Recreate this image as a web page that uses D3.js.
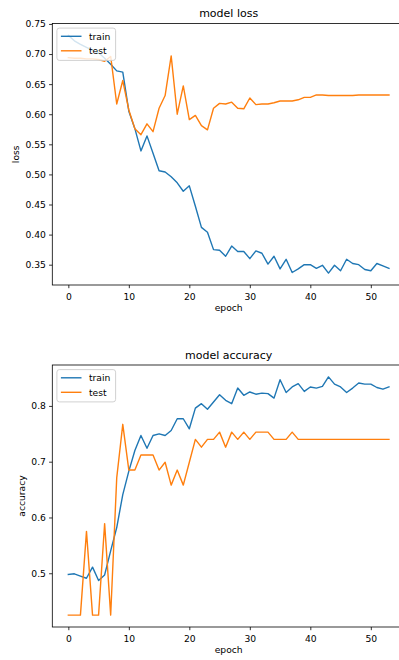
<!DOCTYPE html>
<html>
<head>
<meta charset="utf-8">
<script src="https://cdn.jsdelivr.net/npm/d3@7"></script>
<style>
    body { margin: 0; background: #fff; }
    svg { display: block; font-family: "DejaVu Sans", sans-serif; }
</style>
</head>
<body>
<div id="chart"></div>
<script>
// values, one entry per epoch (0..53)
const trainLoss = [
    0.731, 0.722, 0.716, 0.711, 0.706, 0.702, 0.693, 0.683, 0.672, 0.670,
    0.605, 0.576, 0.539, 0.564, 0.535, 0.506, 0.504, 0.496, 0.486, 0.472,
    0.481, 0.447, 0.412, 0.404, 0.375, 0.374, 0.364, 0.381, 0.372, 0.372,
    0.360, 0.373, 0.369, 0.351, 0.364, 0.343, 0.359, 0.337, 0.343, 0.350,
    0.350, 0.344, 0.349, 0.336, 0.349, 0.340, 0.359, 0.352, 0.350, 0.342,
    0.340, 0.352, 0.348, 0.344
];
const testLoss = [
    0.694, 0.693, 0.693, 0.692, 0.692, 0.691, 0.688, 0.696, 0.617, 0.656,
    0.607, 0.576, 0.566, 0.584, 0.571, 0.610, 0.631, 0.697, 0.600, 0.647,
    0.591, 0.598, 0.581, 0.574, 0.610, 0.618, 0.617, 0.620, 0.610, 0.609,
    0.627, 0.616, 0.617, 0.617, 0.619, 0.622, 0.622, 0.622, 0.624, 0.628,
    0.628, 0.632, 0.632, 0.631, 0.631, 0.631, 0.631, 0.631, 0.632, 0.632,
    0.632, 0.632, 0.632, 0.632
];
const trainAcc = [
    0.498, 0.499, 0.495, 0.491, 0.511, 0.487, 0.497, 0.540, 0.582, 0.641,
    0.683, 0.720, 0.747, 0.724, 0.747, 0.750, 0.747, 0.756, 0.777, 0.777,
    0.759, 0.796, 0.804, 0.794, 0.807, 0.820, 0.810, 0.804, 0.832, 0.819,
    0.825, 0.821, 0.823, 0.822, 0.814, 0.847, 0.824, 0.834, 0.840, 0.826,
    0.834, 0.832, 0.835, 0.852, 0.839, 0.834, 0.824, 0.832, 0.841, 0.839,
    0.839, 0.833, 0.830, 0.834
];
const testAcc = [
    0.425, 0.425, 0.425, 0.575, 0.425, 0.425, 0.589, 0.425, 0.671, 0.767,
    0.685, 0.685, 0.712, 0.712, 0.712, 0.685, 0.699, 0.658, 0.685, 0.658,
    0.699, 0.740, 0.726, 0.740, 0.740, 0.753, 0.726, 0.753, 0.740, 0.753,
    0.740, 0.753, 0.753, 0.753, 0.740, 0.740, 0.740, 0.753, 0.740, 0.740,
    0.740, 0.740, 0.740, 0.740, 0.740, 0.740, 0.740, 0.740, 0.740, 0.740,
    0.740, 0.740, 0.740, 0.740
];
const epochTicks = [0, 10, 20, 30, 40, 50];
const lossTicks = [0.35, 0.40, 0.45, 0.50, 0.55, 0.60, 0.65, 0.70, 0.75];
const accTicks = [0.5, 0.6, 0.7, 0.8];
const seriesNames = ['train', 'test'];

const colors = {train: '#1f77b4', test: '#ff7f0e'};
const width = 399, height = 660;
const left = 52.3, right = 405;   // right spine falls outside the picture
const fontSize = 9.2;

const svg = d3.select('#chart')
    .append('svg')
    .attr('width', width)
    .attr('height', height);

const panels = [
    {title: 'model loss', ylabel: 'loss', train: trainLoss, test: testLoss,
        ticks: lossTicks, fmt: '.2f', top: 23.5, bottom: 285, labelX: 18.8},
    {title: 'model accuracy', ylabel: 'accuracy', train: trainAcc, test: testAcc,
        ticks: accTicks, fmt: '.1f', top: 365, bottom: 627, labelX: 24.8}
];

// matplotlib style 5% padding around the data
function padded(lo, hi) {
    const m = (hi - lo) * 0.05;
    return [lo - m, hi + m];
}

panels.forEach(function (p) {
    const n = p.train.length;
    const x = d3.scaleLinear().domain(padded(0, n - 1)).range([left, right]);
    const all = p.train.concat(p.test);
    const y = d3.scaleLinear().domain(padded(d3.min(all), d3.max(all))).range([p.bottom, p.top]);

    const g = svg.append('g');

    const line = d3.line()
        .x(function (d, i) { return x(i); })
        .y(function (d) { return y(d); });

    seriesNames.forEach(function (name) {
        g.append('path')
            .attr('fill', 'none')
            .attr('stroke', colors[name])
            .attr('stroke-width', 1.4)
            .attr('stroke-linejoin', 'round')
            .attr('stroke-linecap', 'square')
            .attr('d', line(p[name]));
    });

    // axes frame
    g.append('rect')
        .attr('x', left)
        .attr('y', p.top)
        .attr('width', right - left)
        .attr('height', p.bottom - p.top)
        .attr('fill', 'none')
        .attr('stroke', '#000')
        .attr('stroke-width', 0.8);

    // X axis
    const xAxis = g.append('g')
        .attr('transform', `translate(0,${p.bottom})`)
        .call(d3.axisBottom(x).tickValues(epochTicks).tickSize(3.2).tickSizeOuter(0).tickPadding(5));
    // Y axis
    const yAxis = g.append('g')
        .attr('transform', `translate(${left},0)`)
        .call(d3.axisLeft(y).tickValues(p.ticks).tickFormat(d3.format(p.fmt))
            .tickSize(3.2).tickSizeOuter(0).tickPadding(3.2));

    [xAxis, yAxis].forEach(function (a) {
        a.select('.domain').remove();
        a.selectAll('line').attr('stroke', '#000').attr('stroke-width', 0.8);
        a.selectAll('text')
            .attr('fill', '#000')
            .style('font-size', fontSize + 'px')
            .style('font-family', '"DejaVu Sans", sans-serif');
    });

    const cx = (left + right) / 2;

    // title
    g.append('text')
        .attr('x', cx)
        .attr('y', p.top - 6.3)
        .style('text-anchor', 'middle')
        .style('font-size', '11px')
        .text(p.title);

    // text label for the x axis
    g.append('text')
        .attr('x', cx)
        .attr('y', p.bottom + 25.5)
        .style('text-anchor', 'middle')
        .style('font-size', fontSize + 'px')
        .text('epoch');

    // text label for the y axis
    g.append('text')
        .attr('transform', `translate(${p.labelX},${(p.top + p.bottom) / 2}) rotate(-90)`)
        .style('text-anchor', 'middle')
        .style('font-size', fontSize + 'px')
        .text(p.ylabel);

    // legend
    const lx = left + 4.6, ly = p.top + 4.6;
    const legend = g.append('g');
    legend.append('rect')
        .attr('x', lx)
        .attr('y', ly)
        .attr('width', 58.7)
        .attr('height', 32.3)
        .attr('rx', 2.5)
        .attr('fill', '#fff')
        .attr('fill-opacity', 0.8)
        .attr('stroke', '#cccccc')
        .attr('stroke-width', 0.9);
    seriesNames.forEach(function (name, i) {
        const yy = ly + 8.2 + i * 14.5;
        legend.append('line')
            .attr('x1', lx + 4)
            .attr('x2', lx + 24.6)
            .attr('y1', yy)
            .attr('y2', yy)
            .attr('stroke', colors[name])
            .attr('stroke-width', 1.4);
        legend.append('text')
            .attr('x', lx + 32)
            .attr('y', yy + 3.4)
            .style('font-size', fontSize + 'px')
            .text(name);
    });
});
</script>
</body>
</html>
